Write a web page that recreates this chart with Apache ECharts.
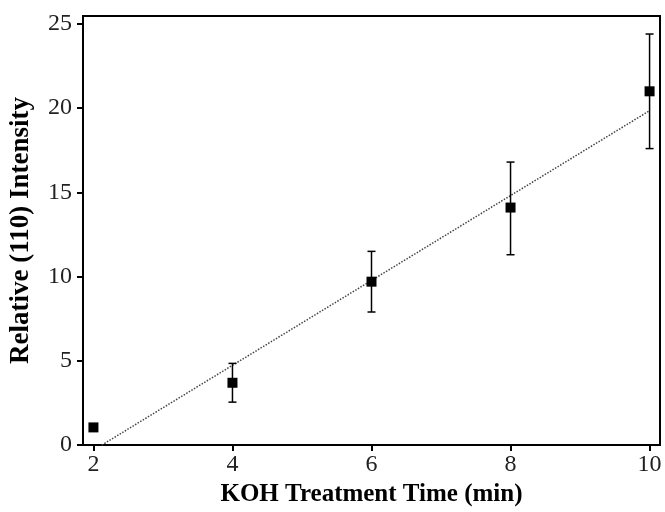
<!DOCTYPE html>
<html lang="en">
<head>
<meta charset="UTF-8">
<title>KOH Treatment</title>
<style>
  html, body { margin: 0; padding: 0; background: #fff; }
  #main { width: 665px; height: 512px; }
</style>
</head>
<body>
<div id="main"></div>
<script src="https://cdn.jsdelivr.net/npm/echarts@6/dist/echarts.min.js"></script>
<script>
// data
var times = [2, 4, 6, 8, 10];
var intensity = [1.05, 3.7, 9.7, 14.1, 21.0];
var errLow = [null, 2.55, 7.9, 11.3, 17.6];
var errHigh = [null, 4.85, 11.5, 16.8, 24.4];
var fitLine = [[2.12, 0], [10, 19.85]];
var xTicks = [2, 4, 6, 8, 10];
var yTicks = [0, 5, 10, 15, 20, 25];

var font = 'Liberation Serif';

var points = [];
var bars = [];
for (var i = 0; i < times.length; i++) {
    points.push([times[i], intensity[i]]);
    if (errLow[i] != null) bars.push([times[i], errLow[i], errHigh[i]]);
}

var myChart = echarts.init(document.getElementById('main'));
var option = {
    animation: false,
    grid: {
        left: 82, right: 5, top: 16, bottom: 62,
        show: true, borderColor: '#000', borderWidth: 2
    },
    xAxis: {
        type: 'value',
        min: 1.85, max: 10.15,
        name: 'KOH Treatment Time (min)',
        nameLocation: 'middle',
        nameGap: 35,
        nameTextStyle: { fontFamily: font, fontWeight: 'bold', fontSize: 25, color: '#000' },
        axisLine: { show: true, lineStyle: { color: '#000', width: 2 } },
        axisTick: { show: true, length: 6, customValues: xTicks, lineStyle: { color: '#000', width: 2 } },
        axisLabel: { customValues: xTicks, fontFamily: font, fontSize: 24, color: '#222', margin: 8 },
        splitLine: { show: false }
    },
    yAxis: {
        type: 'value',
        min: 0, max: 25.47,
        name: 'Relative (110) Intensity',
        nameLocation: 'middle',
        nameGap: 48,
        nameTextStyle: { fontFamily: font, fontWeight: 'bold', fontSize: 27, color: '#000' },
        axisLine: { show: true, lineStyle: { color: '#000', width: 2 } },
        axisTick: { show: true, length: 6, customValues: yTicks, lineStyle: { color: '#000', width: 2 } },
        axisLabel: { customValues: yTicks, fontFamily: font, fontSize: 24, color: '#222', margin: 11 },
        splitLine: { show: false }
    },
    series: [
        {
            type: 'line',
            data: fitLine,
            symbol: 'none',
            lineStyle: { color: '#444', width: 1.5, type: [1.5, 1.5] },
            z: 1
        },
        {
            type: 'custom',
            data: bars,
            renderItem: function (params, api) {
                var top = api.coord([api.value(0), api.value(2)]);
                var bot = api.coord([api.value(0), api.value(1)]);
                var cap = 4;
                var style = { stroke: '#000', lineWidth: 1.5 };
                return {
                    type: 'group',
                    children: [
                        { type: 'line', shape: { x1: top[0], y1: top[1], x2: bot[0], y2: bot[1] }, style: style },
                        { type: 'line', shape: { x1: top[0] - cap, y1: top[1], x2: top[0] + cap, y2: top[1] }, style: style },
                        { type: 'line', shape: { x1: bot[0] - cap, y1: bot[1], x2: bot[0] + cap, y2: bot[1] }, style: style }
                    ]
                };
            },
            z: 2
        },
        {
            type: 'scatter',
            data: points,
            symbol: 'rect',
            symbolSize: 10,
            itemStyle: { color: '#000', opacity: 1 },
            z: 3
        }
    ]
};
myChart.setOption(option);
</script>
</body>
</html>
